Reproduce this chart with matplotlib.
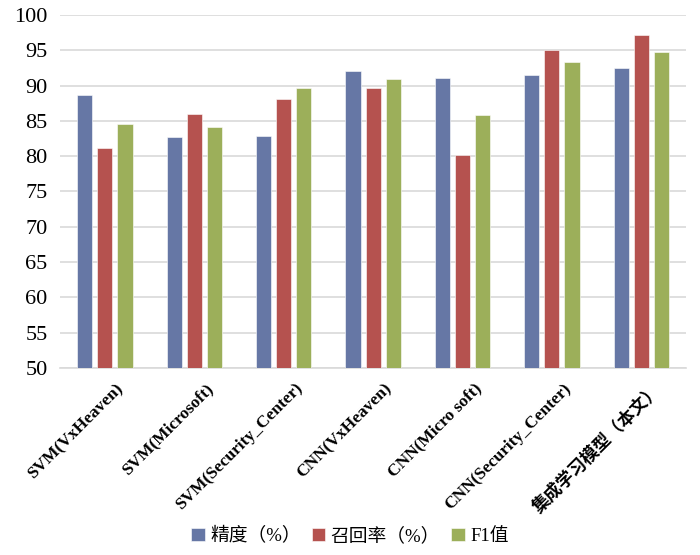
"""Grouped bar chart: precision / recall / F1 for each detection model."""

import matplotlib
matplotlib.use("Agg")
import matplotlib.pyplot as plt
import numpy as np

plt.rcParams["font.family"] = ["Liberation Serif", "Noto Sans CJK SC"]

MODELS = [
    "SVM(VxHeaven)",
    "SVM(Microsoft)",
    "SVM(Security_Center)",
    "CNN(VxHeaven)",
    "CNN(Micro soft)",
    "CNN(Security_Center)",
    "集成学习模型（本文）",
]
PRECISION = [88.6, 82.7, 82.9, 92.1, 91.1, 91.5, 92.5]
RECALL = [81.1, 86.0, 88.1, 89.6, 80.1, 95.0, 97.2]
F1 = [84.6, 84.2, 89.6, 90.9, 85.8, 93.3, 94.8]
SERIES = ["精度（%）", "召回率（%）", "F1值"]
COLORS = ["#6677A5", "#B5524F", "#9CAF5A"]
YTICKS = list(range(50, 101, 5))

fig = plt.figure(figsize=(7.0, 5.55), dpi=100)
ax = fig.add_axes([0.086, 0.337, 0.894, 0.636])

x = np.arange(len(MODELS))
width = 0.17
offset = 0.225
for i, (vals, name, color) in enumerate(zip([PRECISION, RECALL, F1], SERIES, COLORS)):
    ax.bar(x + (i - 1) * offset, np.array(vals) - 50, bottom=50, width=width,
           color=color, edgecolor="white", linewidth=0.4, label=name, zorder=3)

ax.set_ylim(50, 100)
ax.set_xlim(-0.5, len(MODELS) - 0.5)
ax.set_yticks(YTICKS)
ax.set_yticklabels([str(t) for t in YTICKS], fontsize=16)
ax.grid(axis="y", color="#d9d9d9", linewidth=1.2, zorder=0)
for side in ("top", "right", "left"):
    ax.spines[side].set_visible(False)
ax.spines["bottom"].set_color("#d9d9d9")
ax.spines["bottom"].set_linewidth(1.2)
ax.tick_params(axis="y", length=0, pad=9)
ax.tick_params(axis="x", length=0, pad=9)

ax.set_xticks(x + 0.12)
ax.set_xticklabels(MODELS, rotation=45, ha="right", rotation_mode="anchor",
                   fontsize=12.5, fontweight="bold")

fig.legend(loc="lower center", bbox_to_anchor=(0.5, -0.012), ncol=3, frameon=False,
           fontsize=13.5, handlelength=0.7, handleheight=0.7, handletextpad=0.3,
           columnspacing=0.6)

fig.savefig("out.png", dpi=100)
